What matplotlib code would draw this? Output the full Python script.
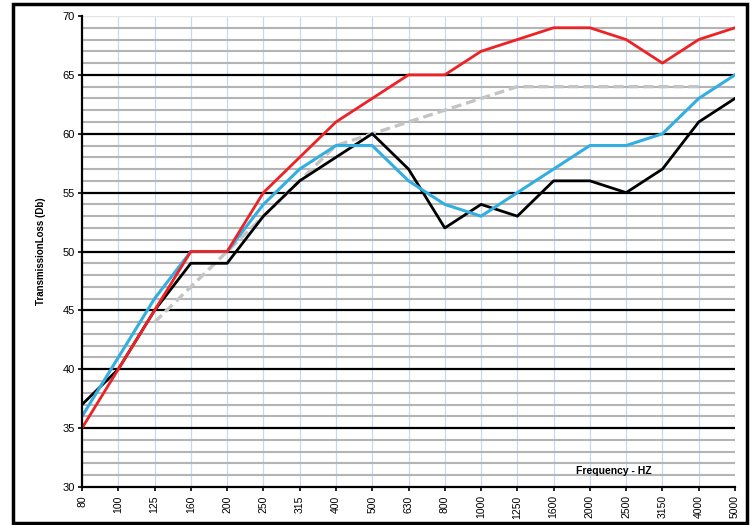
import numpy as np
import matplotlib.pyplot as plt
from matplotlib.patches import Rectangle

plt.rcParams["font.family"] = ["Liberation Sans", "DejaVu Sans"]

freqs = ["80", "100", "125", "160", "200", "250", "315", "400", "500", "630",
         "800", "1000", "1250", "1600", "2000", "2500", "3150", "4000", "5000"]

red_tl = [35, 40, 45, 50, 50, 55, 58, 61, 63, 65, 65, 67, 68, 69, 69, 68, 66, 68, 69]
blue_tl = [36, 41, 46, 50, 50, 54, 57, 59, 59, 56, 54, 53, 55, 57, 59, 59, 60, 63, 65]
black_tl = [37, 40, 45, 49, 49, 53, 56, 58, 60, 57, 52, 54, 53, 56, 56, 55, 57, 61, 63]
# reference contour, 125 Hz .. 4000 Hz
contour_freqs = freqs[2:18]
contour_tl = [44, 47, 50, 53, 56, 59, 60, 61, 62, 63, 64, 64, 64, 64, 64, 64]

fig = plt.figure(figsize=(7.53, 5.25), dpi=100)
ax = fig.add_axes([82 / 753, 1 - 487 / 525, (735 - 82) / 753, (487 - 16) / 525])

x = np.arange(len(freqs))
xc = np.arange(2, 18)

# grid
for v in range(31, 70):
    if v % 5 == 0:
        ax.axhline(v, color="black", lw=1.6, zorder=1)
    else:
        ax.axhline(v, color="#b4b4b4", lw=1.5, zorder=1)
ax.axhline(70, color="#e4e4e4", lw=1.0, zorder=1)
for xi in x[1:]:
    ax.axvline(xi, color="#c9d8ee", lw=0.9, zorder=0.5)

ax.plot(xc, contour_tl, color="#c4c4c4", lw=2.4, ls=(0, (3, 1.5)), zorder=2)
ax.plot(x, black_tl, color="black", lw=2.0, zorder=3)
ax.plot(x, blue_tl, color="#33aee0", lw=2.2, zorder=4)
ax.plot(x, red_tl, color="#ee2226", lw=2.0, zorder=5)

ax.set_xlim(0, len(freqs) - 1)
ax.set_ylim(30, 70)
ax.set_xticks(x)
ax.set_xticklabels(freqs, rotation=90, fontsize=7.5)
ax.set_yticks(range(30, 71, 5))
ax.tick_params(axis="y", labelsize=8, length=3, width=1.2, pad=2)
ax.tick_params(axis="x", length=3, width=1.2, pad=3)

for s in ["top", "right"]:
    ax.spines[s].set_visible(False)
for s in ["left", "bottom"]:
    ax.spines[s].set_linewidth(1.6)
    ax.spines[s].set_zorder(6)

ax.set_ylabel("TransmissionLoss (Db)", fontsize=7, fontweight="bold", labelpad=12)
ax.text(14.65, 31.4, "Frequency - HZ", fontsize=7.5, fontweight="bold",
        ha="center", va="center", zorder=7)

fig.patches.append(Rectangle((13 / 753, 2 / 525), (747 - 13) / 753, (521 - 2) / 525,
                             transform=fig.transFigure, fill=False,
                             edgecolor="black", lw=2.5))

fig.savefig("out.png", dpi=100)
